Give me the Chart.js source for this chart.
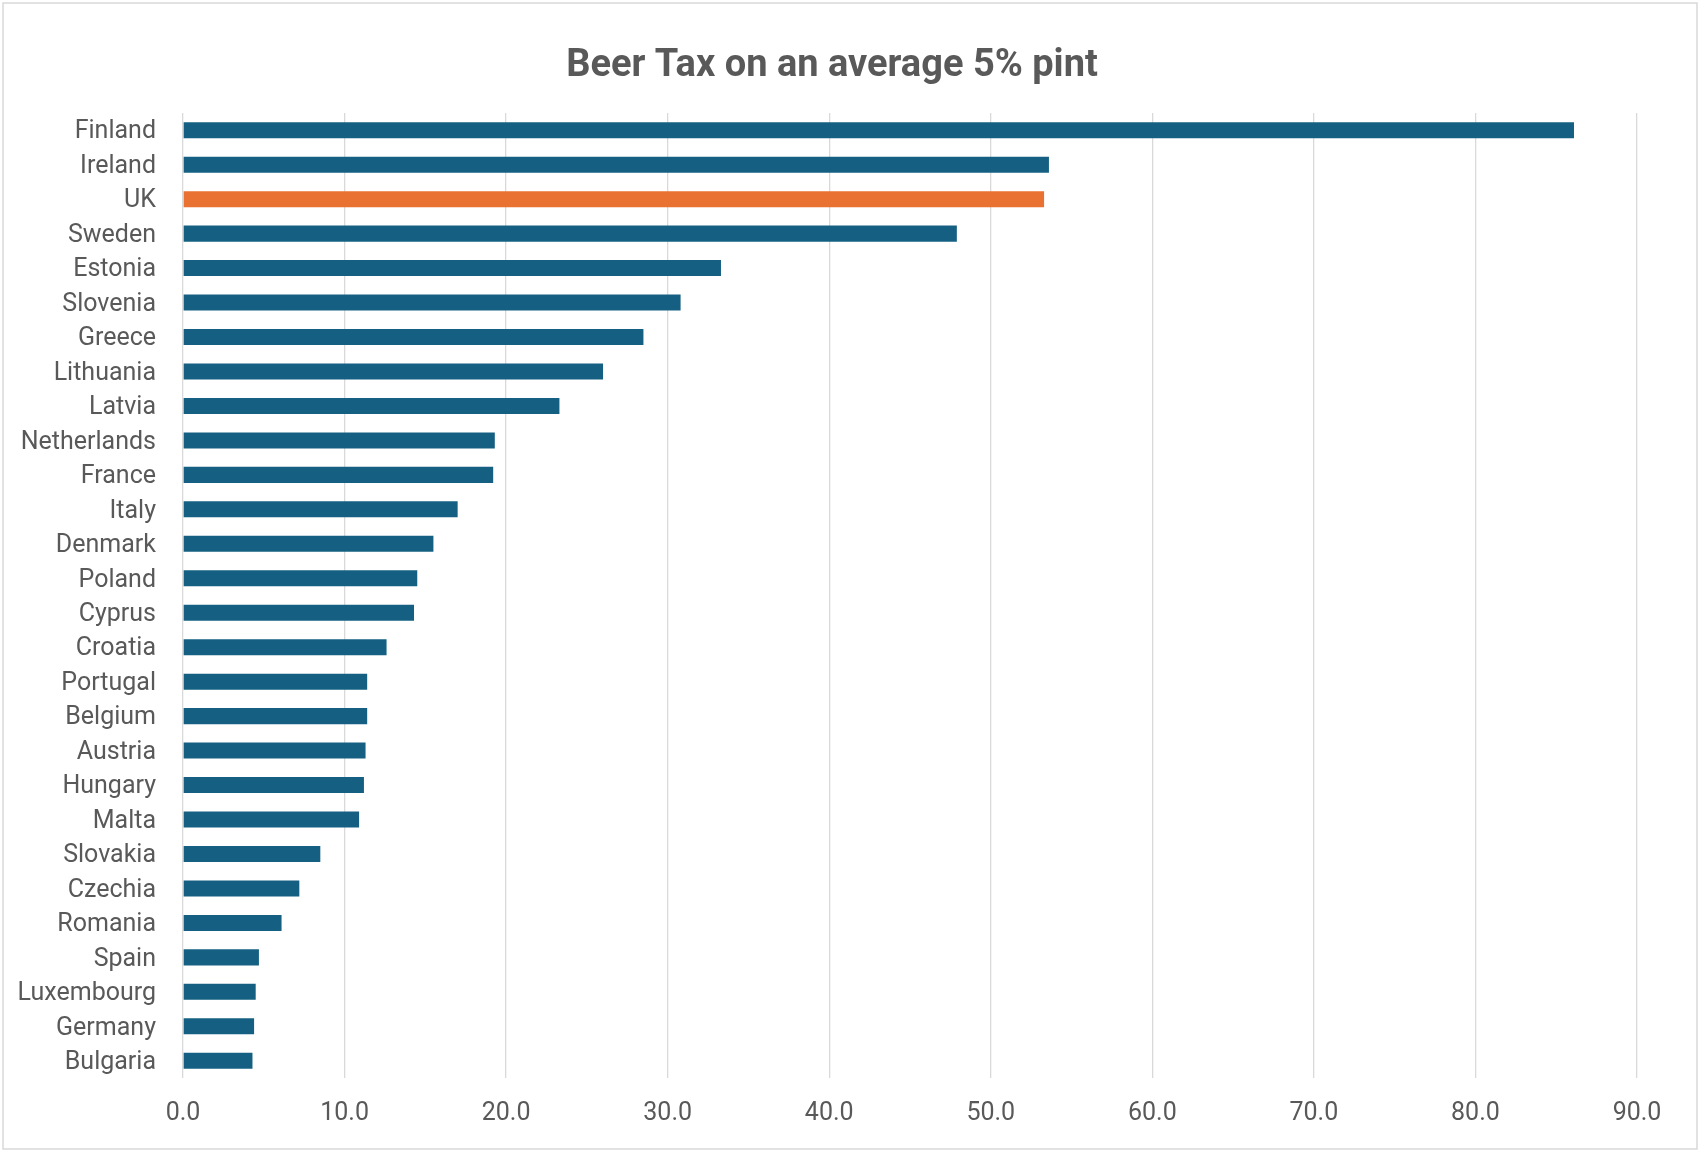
<!DOCTYPE html>
<html>
<head>
<meta charset="utf-8">
<title>Beer Tax on an average 5% pint</title>
<script src="https://cdn.jsdelivr.net/npm/chart.js@4/dist/chart.umd.min.js"></script>
<style>
  html, body { margin: 0; padding: 0; background: #fff; }
  #chart { display: block; }
</style>
</head>
<body>
<canvas id="chart" width="1700" height="1151"></canvas>
<script>
// ── DATA ─────────────────────────────────────────────────────
var countries = ['Finland', 'Ireland', 'UK', 'Sweden', 'Estonia', 'Slovenia', 'Greece',
  'Lithuania', 'Latvia', 'Netherlands', 'France', 'Italy', 'Denmark', 'Poland', 'Cyprus',
  'Croatia', 'Portugal', 'Belgium', 'Austria', 'Hungary', 'Malta', 'Slovakia', 'Czechia',
  'Romania', 'Spain', 'Luxembourg', 'Germany', 'Bulgaria'];
var beerTax = [86.1, 53.6, 53.3, 47.9, 33.3, 30.8, 28.5,
  26.0, 23.3, 19.3, 19.2, 17.0, 15.5, 14.5, 14.3,
  12.6, 11.4, 11.4, 11.3, 11.2, 10.9, 8.5, 7.2,
  6.1, 4.7, 4.5, 4.4, 4.3];
var highlight = 'UK';
var xMin = 0, xMax = 90, xStep = 10;

// ── STYLE ────────────────────────────────────────────────────
var BLUE = '#156082';
var ORANGE = '#E97132';
var TEXT = '#595959';
var GRID = '#D9D9D9';
var FONT = "Roboto, 'Liberation Sans', sans-serif";

// ── FRAME PLUGIN ─────────────────────────────────────────────
var framePlugin = {
  id: 'frame',
  beforeDraw: function (chart) {
    var c = chart.ctx;
    c.save();
    c.fillStyle = '#fff';
    c.fillRect(0, 0, chart.width, chart.height);
    c.strokeStyle = GRID;
    c.lineWidth = 1.5;
    c.strokeRect(3, 3, chart.width - 6, chart.height - 5);
    c.restore();
  }
};

new Chart(document.getElementById('chart'), {
  type: 'bar',
  data: {
    labels: countries,
    datasets: [{
      label: 'Beer tax',
      data: beerTax,
      backgroundColor: countries.map(function (c) { return c === highlight ? ORANGE : BLUE; }),
      categoryPercentage: 1,
      barPercentage: 0.465
    }]
  },
  options: {
    indexAxis: 'y',
    responsive: false,
    animation: false,
    devicePixelRatio: 1,
    // title centred a bit right of the plot, plot keeps its own right margin
    layout: { padding: { left: 0, right: 36, top: 0, bottom: 0 } },
    plugins: {
      legend: { display: false },
      tooltip: { enabled: false },
      title: {
        display: true,
        text: 'Beer Tax on an average 5% pint',
        color: TEXT,
        font: { family: FONT, size: 38, weight: 'bold' },
        padding: { top: 44, bottom: 23.4 }
      }
    },
    scales: {
      x: {
        min: xMin, max: xMax,
        grid: { color: GRID, lineWidth: 1.3, drawTicks: false },
        border: { display: false },
        ticks: {
          stepSize: xStep,
          color: TEXT,
          padding: 21,
          font: { family: FONT, size: 25 },
          callback: function (v) { return Number(v).toFixed(1); }
        },
        afterFit: function (scale) {
          scale.height = 73;
          scale.paddingRight = 63;
        }
      },
      y: {
        grid: { display: false, drawTicks: false },
        border: { display: false },
        ticks: {
          autoSkip: false,
          color: TEXT,
          padding: 27,
          labelOffset: 2,
          font: { family: FONT, size: 25 }
        },
        afterFit: function (scale) { scale.width = 183; }
      }
    }
  },
  plugins: [framePlugin]
});
</script>
</body>
</html>
